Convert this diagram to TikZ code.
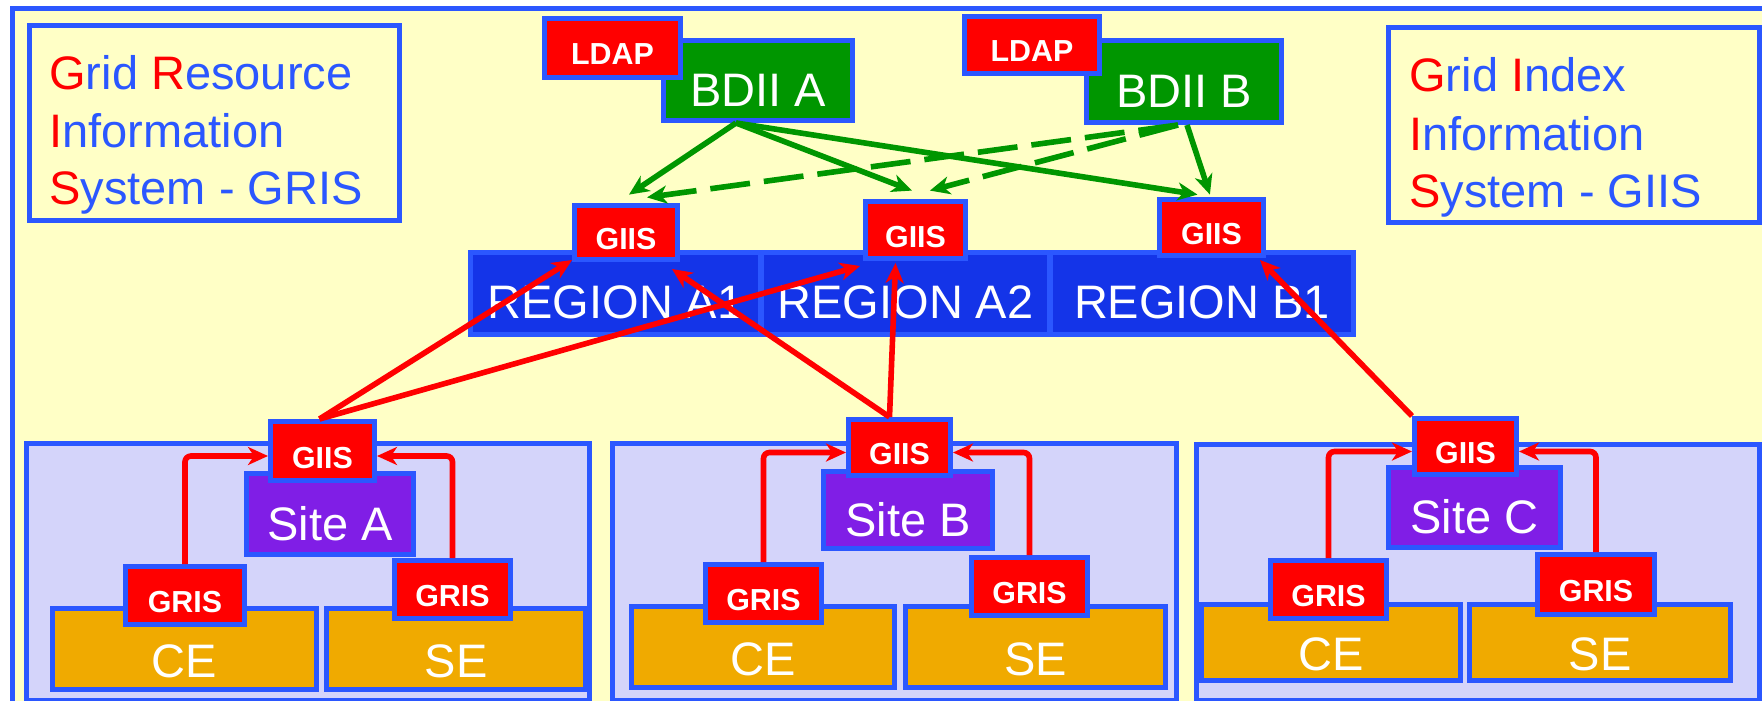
\documentclass[tikz,border=0pt]{standalone}
\usepackage{fontspec}
\setmainfont{Liberation Sans}
\usetikzlibrary{arrows.meta}
\definecolor{lineblue}{RGB}{43,87,255}
\definecolor{regionblue}{RGB}{20,52,232}
\definecolor{bgyellow}{RGB}{255,255,198}
\definecolor{lavender}{RGB}{212,212,250}
\definecolor{bdiigreen}{RGB}{0,150,0}
\definecolor{sitepurple}{RGB}{128,30,230}
\definecolor{elemorange}{RGB}{240,170,0}
\definecolor{infored}{RGB}{255,0,0}
\begin{document}
\begin{tikzpicture}[x=0.5pt,y=-0.5pt,
  at box/.style n args={4}{at={({(#1+#3)/2},{(#2+#4)/2})},
    minimum width={(#3-#1-5)*0.5pt}, minimum height={(#4-#2-5)*0.5pt}},
  box/.style={draw=lineblue, line width=2.5pt, inner sep=0pt, text=white},
  bigfont/.style={font=\fontsize{23.5}{28}\selectfont},
  redbox/.style={box, fill=infored, font=\fontsize{15.2}{17}\selectfont\bfseries,
    text height=17pt, text depth=0pt},
  bdiibox/.style={box, bigfont, fill=bdiigreen, text height=26pt, text depth=0pt},
  regionbox/.style={box, bigfont, fill=regionblue, text height=24.5pt, text depth=0pt},
  sitebox/.style={box, fill=lavender},
  purplebox/.style={box, bigfont, fill=sitepurple, text height=26pt, text depth=0pt},
  elembox/.style={box, bigfont, fill=elemorange, text height=28pt, text depth=0pt},
  legendbox/.style={draw=lineblue, line width=2.5pt, fill=bgyellow, inner sep=0pt},
  legendtext/.style={bigfont, text=lineblue, inner sep=0pt, anchor=base west},
  garrow/.style={draw=bdiigreen, line width=2.8pt,
    -{Stealth[length=10pt,width=9pt,inset=3pt]}},
  gdashed/.style={garrow, dash pattern=on 20pt off 7pt},
  rarrow/.style={draw=infored, line width=2.8pt,
    -{Stealth[length=10pt,width=9pt,inset=3pt]}},
  relbow/.style={rarrow, rounded corners=3pt}
]
\useasboundingbox (0,0) rectangle (1762,701);
\clip (0,0) rectangle (1762,701);

% outer frame
\path[fill=bgyellow, draw=lineblue, line width=2.5pt] (12.5,8.5) rectangle (1800,740);

% legends
\node[legendbox, at box={27}{23}{402}{223}] (legL) {};
\node[legendtext] (legL1) at (49,90) {\textcolor{infored}{G}rid \textcolor{infored}{R}esource};
\node[legendtext] (legL2) at (49,148) {\textcolor{infored}{I}nformation};
\node[legendtext] (legL3) at (49,205) {\textcolor{infored}{S}ystem - GRIS};

\node[legendbox, at box={1386}{25}{1762}{225}] (legR) {};
\node[legendtext] (legR1) at (1409,92) {\textcolor{infored}{G}rid \textcolor{infored}{I}ndex};
\node[legendtext] (legR2) at (1409,150) {\textcolor{infored}{I}nformation};
\node[legendtext] (legR3) at (1409,207) {\textcolor{infored}{S}ystem - GIIS};

% regional level
\node[regionbox, at box={468}{250}{763}{337}] (regA1) {REGION A1};
\node[regionbox, at box={759}{250}{1052}{337}] (regA2) {REGION A2};
\node[regionbox, at box={1048}{250}{1356}{337}] (regB1) {REGION B1};
\node[redbox, at box={572}{203}{680}{262}] (giisA1) {GIIS};
\node[redbox, at box={863}{199}{968}{261}] (giisA2) {GIIS};
\node[redbox, at box={1157}{197}{1266}{258}] (giisB1) {GIIS};

% top level BDII servers
\node[bdiibox, at box={661}{38}{855}{123}] (bdiiA) {BDII A};
\node[redbox, at box={542}{16}{683}{80}] (ldapA) {LDAP};
\node[bdiibox, at box={1084}{38}{1284}{125}] (bdiiB) {BDII B};
\node[redbox, at box={962}{14}{1102}{76}] (ldapB) {LDAP};

% BDII queries
\draw[garrow] ([xshift=-11pt]bdiiA.south) -- ([xshift=1.5pt,yshift=4.2pt]giisA1.north);
\draw[garrow] ([xshift=-11pt]bdiiA.south) -- ([xshift=-1.8pt,yshift=4.2pt]giisA2.north);
\draw[garrow] ([xshift=-11pt]bdiiA.south) -- ([xshift=-7pt,yshift=1.2pt]giisB1.north);
\draw[garrow] ([xshift=1.5pt]bdiiB.south) -- ([xshift=-0.8pt,yshift=1.2pt]giisB1.north);
\draw[gdashed] ([xshift=-3pt]bdiiB.south) -- ([xshift=10.5pt,yshift=2.8pt]giisA1.north);
\draw[gdashed] ([xshift=-3pt]bdiiB.south) -- ([xshift=7.2pt,yshift=4.2pt]giisA2.north);

% sites
\node[sitebox, at box={24}{441}{592}{703}] (siteboxA) {};
\node[sitebox, at box={610}{441}{1179}{703}] (siteboxB) {};
\node[sitebox, at box={1194}{442}{1762}{703}] (siteboxC) {};

\node[elembox, at box={50}{606}{319}{692}] (ceA) {CE};
\node[elembox, at box={324}{606}{588}{692}] (seA) {SE};
\node[elembox, at box={629}{604}{897}{690}] (ceB) {CE};
\node[elembox, at box={903}{604}{1168}{690}] (seB) {SE};
\node[elembox, at box={1199}{602}{1463}{683}] (ceC) {CE};
\node[elembox, at box={1467}{602}{1733}{683}] (seC) {SE};

\node[redbox, at box={123}{564}{247}{627}] (grisCEA) {GRIS};
\node[redbox, at box={392}{558}{513}{621}] (grisSEA) {GRIS};
\node[redbox, at box={703}{562}{824}{625}] (grisCEB) {GRIS};
\node[redbox, at box={969}{555}{1090}{618}] (grisSEB) {GRIS};
\node[redbox, at box={1268}{558}{1389}{621}] (grisCEC) {GRIS};
\node[redbox, at box={1535}{552}{1657}{617}] (grisSEC) {GRIS};

\node[purplebox, at box={244}{471}{416}{557}] (siteA) {Site A};
\node[purplebox, at box={821}{469}{995}{551}] (siteB) {Site B};
\node[purplebox, at box={1386}{465}{1563}{550}] (siteC) {Site C};

\node[redbox, at box={268}{419}{377}{483}] (giisSA) {GIIS};
\node[redbox, at box={846}{417}{953}{478}] (giisSB) {GIIS};
\node[redbox, at box={1412}{416}{1519}{477}] (giisSC) {GIIS};

% GRIS registration inside each site
\draw[relbow] (grisCEA.north) |- ([yshift=-2.5pt]giisSA.west);
\draw[relbow] (grisSEA.north) |- ([yshift=-2.5pt]giisSA.east);
\draw[relbow] (grisCEB.north) |- ([yshift=-2.5pt]giisSB.west);
\draw[relbow] (grisSEB.north) |- ([yshift=-2.5pt]giisSB.east);
\draw[relbow] (grisCEC.north) |- ([yshift=-2.5pt]giisSC.west);
\draw[relbow] (grisSEC.north) |- ([yshift=-2.5pt]giisSC.east);

% site GIIS registration to regional GIIS
\draw[rarrow] ([xshift=-1.5pt]giisSA.north) -- ([yshift=1pt]giisA1.south west);
\draw[rarrow] ([xshift=-1.5pt]giisSA.north) -- ([xshift=-1.5pt,yshift=-2.5pt]giisA2.south west);
\draw[rarrow] ([xshift=-5pt]giisSB.north) -- ([xshift=-4pt,yshift=-3.5pt]giisA1.south east);
\draw[rarrow] ([xshift=-5pt]giisSB.north) -- ([xshift=-10pt,yshift=-1pt]giisA2.south);
\draw[rarrow] (giisSC.north west) -- ([xshift=-3pt,yshift=-1pt]giisB1.south east);
\end{tikzpicture}
\end{document}
